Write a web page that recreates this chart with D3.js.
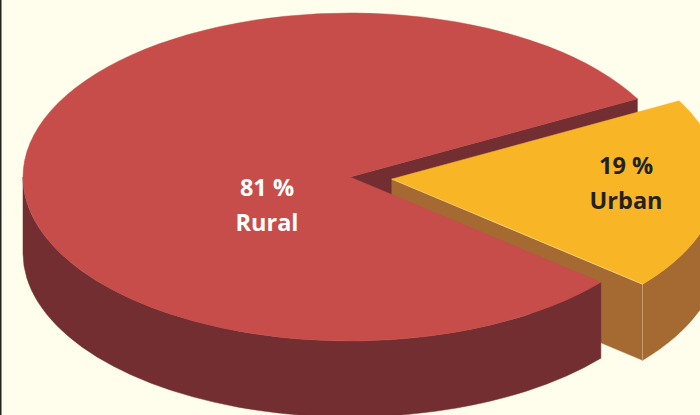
<!DOCTYPE html>
<html>
<head>
<meta charset="utf-8">
<script src="https://cdn.jsdelivr.net/npm/d3@7"></script>
<style>
  html, body { margin: 0; padding: 0; background: #FFFDEB; }
  svg { display: block; }
</style>
</head>
<body>
<script>
// ---- data ----
const categories = ["Rural", "Urban"];
const values = [81, 19];
const percentLabels = ["81 %", "19 %"];
const topColors = ["#C64D4A", "#F8B626"];
const sideColors = ["#722E31", "#A56A32"];
const labelColors = ["#FFFFFF", "#222222"];

// ---- layout ----
const W = 700, H = 415;
const cx = 350, cy = 177, rx = 327, ry = 164, depth = 76;
const startDeg = 129.9;           // d3.pie angle where "Rural" starts
const explodeDist = [0, 42];
const labelK = [0.255, 0.72];
const labelDy = [30, -10];

const svg = d3.select("body").append("svg").attr("width", W).attr("height", H);
svg.append("rect").attr("width", W).attr("height", H).attr("fill", "#FFFDEB");
svg.append("rect").attr("x", 0).attr("y", 0).attr("width", 1.5).attr("height", H).attr("fill", "#222");

const pie = d3.pie().sort(null)
  .startAngle(startDeg * Math.PI / 180)
  .endAngle(startDeg * Math.PI / 180 + 2 * Math.PI);
const arcs = pie(values);

const sx = d3.scaleLinear().domain([-1, 1]).range([-rx, rx]);
const sy = d3.scaleLinear().domain([-1, 1]).range([-ry, ry]);

const slices = arcs.map((a, i) => {
  const t1 = a.startAngle - Math.PI / 2;
  const t2 = a.endAngle - Math.PI / 2;
  const tm = (t1 + t2) / 2;
  const ox = cx + explodeDist[i] * Math.cos(tm);
  const oy = cy + explodeDist[i] * (ry / rx) * Math.sin(tm);
  const P = (t, d = 0) => [ox + sx(Math.cos(t)), oy + sy(Math.sin(t)) + d];
  return { i, t1, t2, tm, ox, oy, P };
});

// collect side faces with a depth key (mean nearness toward viewer)
const faces = [];
slices.forEach(s => {
  const { i, t1, t2, ox, oy, P } = s;
  const k0 = Math.floor(t1 / (2 * Math.PI));
  for (let k = k0; k <= k0 + 1; k++) {
    const a1 = Math.max(t1, 2 * Math.PI * k), a2 = Math.min(t2, 2 * Math.PI * k + Math.PI);
    if (a2 > a1) {
      const p1 = P(a1), p2 = P(a2), q2 = P(a2, depth), q1 = P(a1, depth);
      const large = (a2 - a1) > Math.PI ? 1 : 0;
      let key = 0; const n = 20;
      for (let j = 0; j <= n; j++) key += P(a1 + (a2 - a1) * j / n)[1];
      faces.push({ i, key: key / (n + 1),
        d: `M${p1}A${rx},${ry} 0 ${large} 1 ${p2}L${q2}A${rx},${ry} 0 ${large} 0 ${q1}Z` });
    }
  }
  const cut = (t, edge) => {
    faces.push({ i, key: (oy + P(t)[1]) / 2, edge: edge ? [P(t), P(t, depth)] : null,
      d: `M${[ox, oy]}L${P(t)}L${P(t, depth)}L${[ox, oy + depth]}Z` });
  };
  if (Math.cos(t1) < 0) cut(t1, false);
  if (Math.cos(t2) > 0) cut(t2, explodeDist[i] > 0);
});
faces.sort((a, b) => a.key - b.key);

const sideLayer = svg.append("g");
faces.forEach(f => {
  sideLayer.append("path").attr("d", f.d)
    .attr("fill", sideColors[f.i]).attr("stroke", sideColors[f.i]).attr("stroke-width", 0.5);
  if (f.edge) {
    sideLayer.append("line")
      .attr("x1", f.edge[0][0]).attr("y1", f.edge[0][1])
      .attr("x2", f.edge[1][0]).attr("y2", f.edge[1][1])
      .attr("stroke", "#FFF4D6").attr("stroke-width", 1.3);
  }
});

// tops
const topLayer = svg.append("g");
slices.forEach(s => {
  const { i, t1, t2, ox, oy, P } = s;
  const large = (t2 - t1) > Math.PI ? 1 : 0;
  topLayer.append("path")
    .attr("d", `M${ox},${oy}L${P(t1)}A${rx},${ry} 0 ${large} 1 ${P(t2)}Z`)
    .attr("fill", topColors[i]).attr("stroke", topColors[i]).attr("stroke-width", 0.5);
  if (explodeDist[i] > 0 && Math.cos(t2) > 0) {
    topLayer.append("line")
      .attr("x1", ox).attr("y1", oy)
      .attr("x2", P(t2)[0]).attr("y2", P(t2)[1])
      .attr("stroke", "#FFE9B0").attr("stroke-width", 0.8).attr("opacity", 0.7);
  }
});

// labels
const labelLayer = svg.append("g");
slices.forEach(s => {
  const { i, tm, ox, oy } = s;
  const lx = ox + labelK[i] * sx(Math.cos(tm));
  const ly = oy + labelK[i] * sy(Math.sin(tm)) + labelDy[i];
  const txt = labelLayer.append("text")
    .attr("x", lx).attr("y", ly)
    .attr("text-anchor", "middle")
    .attr("font-family", "'Open Sans', 'Noto Sans', sans-serif")
    .attr("font-weight", 700).attr("font-size", 23.5)
    .attr("fill", labelColors[i]);
  txt.append("tspan").attr("x", lx).attr("dy", "-0.3em").text(percentLabels[i]);
  txt.append("tspan").attr("x", lx).attr("dy", "1.5em").text(categories[i]);
});
</script>
</body>
</html>
